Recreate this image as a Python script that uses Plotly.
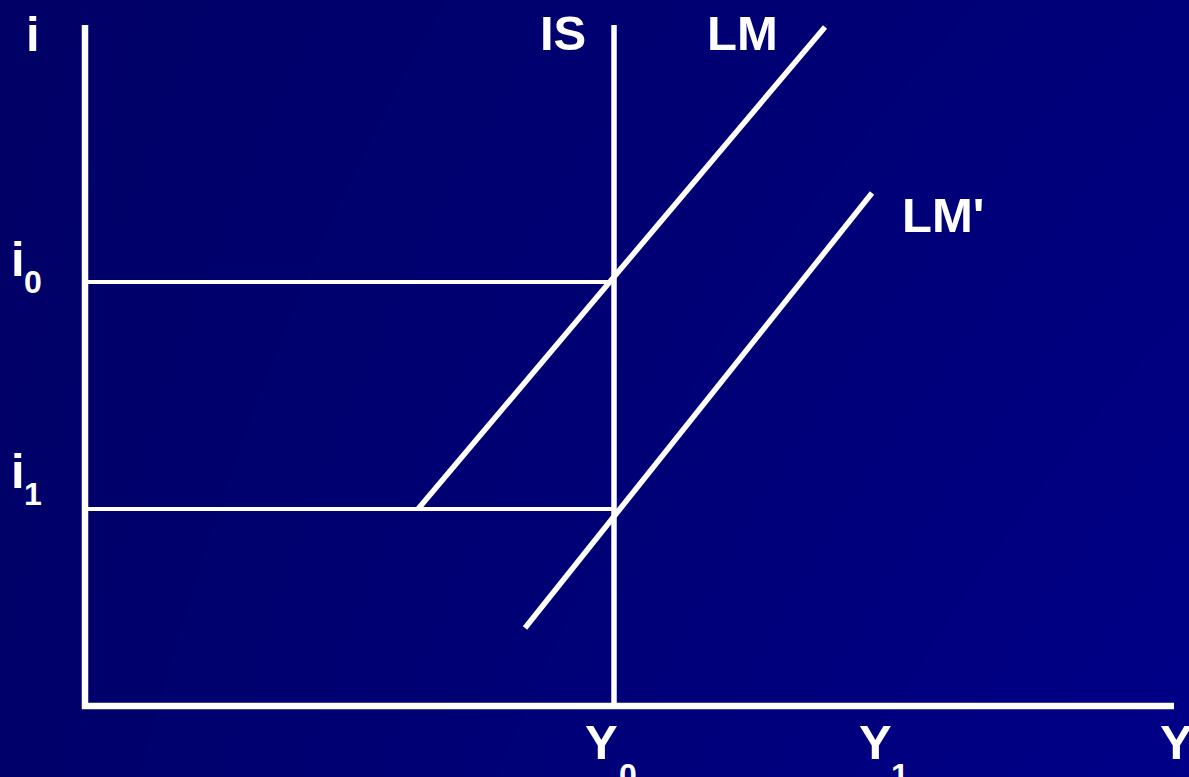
import plotly.graph_objects as go

# ---- data (chart units: origin at the axes' corner) ----
axis_top = 68.1
axis_right = 108.9
Y0 = 52.9
i0 = 42.4
i1 = 19.7
IS_top = 68.1
LM_x = [33.3, 74.0]
LM_y = [19.7, 67.9]
LMp_x = [44.0, 78.7]
LMp_y = [7.8, 51.3]

x_range = [-8.5, 110.4]
y_range = [-7.1, 70.6]

# background corner blues: [bottom-left, bottom-right], [top-left, top-right]
bg_z = [[106, 136], [102, 122]]

# labels: (text, x, y, size)
labels = [
    ("i", -6.0, 67.2, 49),
    ("IS", 45.4, 67.3, 49),
    ("LM", 62.1, 67.3, 49),
    ("LM'", 81.6, 49.1, 49),
    ("i", -7.5, 44.7, 49),
    ("0", -6.2, 42.4, 32),
    ("i", -7.5, 23.5, 49),
    ("1", -6.2, 21.2, 32),
    ("Y", 49.9, -3.6, 49),
    ("0", 53.3, -6.9, 32),
    ("Y", 77.3, -3.6, 49),
    ("1", 80.5, -6.9, 32),
    ("Y", 107.4, -3.6, 49),
]

WHITE = "#ffffff"
fig = go.Figure()

fig.add_trace(go.Heatmap(
    x=x_range, y=y_range, z=bg_z, zsmooth="best",
    colorscale=[[0, "rgb(0,0,100)"], [1, "rgb(0,0,140)"]],
    zmin=100, zmax=140, showscale=False, hoverinfo="skip",
))

# axes
fig.add_trace(go.Scatter(x=[0, 0, axis_right], y=[axis_top, 0, 0], mode="lines",
                         line=dict(color=WHITE, width=6.5), hoverinfo="skip"))
# IS
fig.add_trace(go.Scatter(x=[Y0, Y0], y=[0, IS_top], mode="lines",
                         line=dict(color=WHITE, width=5.5), hoverinfo="skip"))
# i0, i1 guide lines
fig.add_trace(go.Scatter(x=[0, Y0], y=[i0, i0], mode="lines",
                         line=dict(color=WHITE, width=4), hoverinfo="skip"))
fig.add_trace(go.Scatter(x=[0, Y0], y=[i1, i1], mode="lines",
                         line=dict(color=WHITE, width=4), hoverinfo="skip"))
# LM, LM'
fig.add_trace(go.Scatter(x=LM_x, y=LM_y, mode="lines",
                         line=dict(color=WHITE, width=5.5), hoverinfo="skip"))
fig.add_trace(go.Scatter(x=LMp_x, y=LMp_y, mode="lines",
                         line=dict(color=WHITE, width=5.5), hoverinfo="skip"))

for text, x, y, size in labels:
    fig.add_annotation(x=x, y=y, text=text, showarrow=False, xanchor="left",
                       yanchor="middle", borderpad=0,
                       font=dict(family="Liberation Sans, Arial, sans-serif",
                                 size=size, color=WHITE, weight="bold"))

fig.update_layout(
    width=1189, height=777,
    margin=dict(l=0, r=0, t=0, b=0),
    paper_bgcolor="#000070", plot_bgcolor="#000070",
    showlegend=False,
    xaxis=dict(range=x_range, visible=False, fixedrange=True),
    yaxis=dict(range=y_range, visible=False, fixedrange=True),
)

fig.write_html(
    "out.html",
    config={"displayModeBar": False},
    post_script="document.body.style.margin='0';document.body.style.overflow='hidden';"
                "window.dispatchEvent(new Event('resize'));",
)
